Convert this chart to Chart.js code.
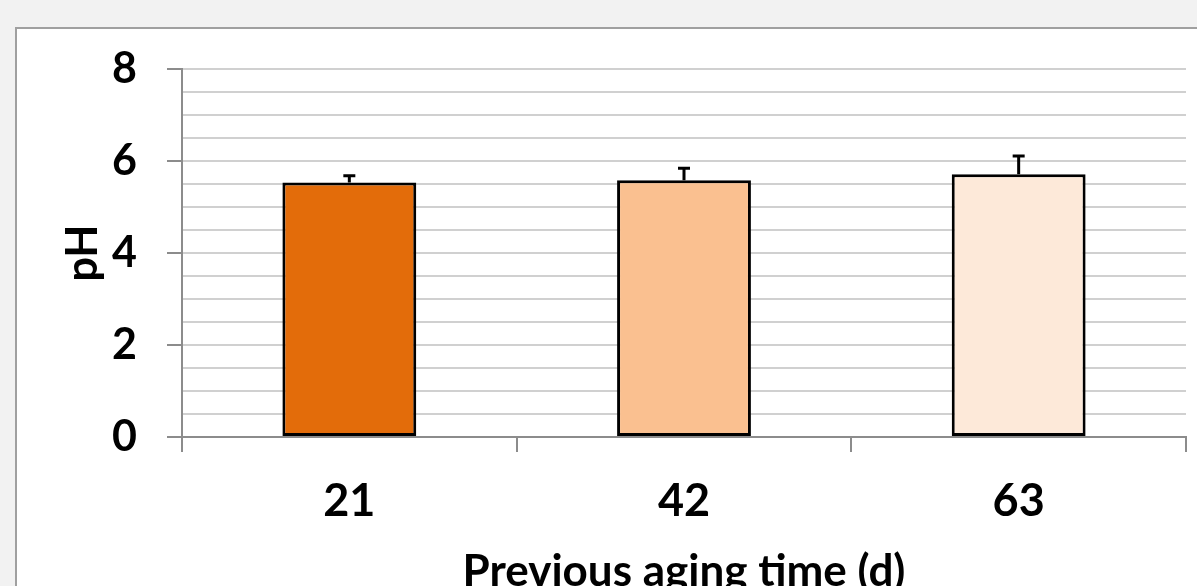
<!DOCTYPE html>
<html>
<head>
<meta charset="utf-8">
<script src="https://cdn.jsdelivr.net/npm/chart.js@4"></script>
<style>
    html, body { margin: 0; padding: 0; overflow: hidden; background: #f2f2f2; width: 1197px; height: 586px; }
    #frame { position: absolute; left: 15px; top: 27px; width: 1300px; height: 700px; background: #ffffff; border-left: 2px solid #a0a0a0; border-top: 2px solid #a0a0a0; }
    #phChart { position: absolute; left: 0; top: 0; }
</style>
</head>
<body>
<div id="frame"></div>
<canvas id="phChart" width="1197" height="640"></canvas>
<script>

const agingDays = ['21', '42', '63'];
const phValues = [5.53, 5.58, 5.71];
const phErrors = [0.15, 0.26, 0.40];
const barColors = ['#e36c0a', '#fac090', '#fde9d9'];
const yTickLabels = [0, 2, 4, 6, 8];


const errorBarPlugin = {

    id: 'errorBars',
    afterDatasetsDraw(chart) {

        const ctx = chart.ctx;
        const yScale = chart.scales.y;
        const meta = chart.getDatasetMeta(0);

        ctx.save();
        ctx.strokeStyle = '#000000';
        ctx.lineWidth = 3;

        meta.data.forEach((bar, i) => {

            const top = yScale.getPixelForValue(phValues[i] + phErrors[i]);
            const base = yScale.getPixelForValue(phValues[i]);

            ctx.beginPath();
            ctx.moveTo(bar.x, base);
            ctx.lineTo(bar.x, top);
            ctx.moveTo(bar.x - 6, top);
            ctx.lineTo(bar.x + 6, top);
            ctx.stroke();
        });

        ctx.restore();
    }
};


function initializeChart() {

    const ctx = document.getElementById('phChart').getContext('2d');

    new Chart(ctx, {

        type: 'bar',
        data: {

            labels: agingDays,
            datasets: [{

                data: phValues,
                backgroundColor: barColors,
                borderColor: '#000000',
                borderWidth: 3,
                borderSkipped: false,
                categoryPercentage: 1,
                barPercentage: 0.4
            }]
        },
        options: {

            responsive: false,
            devicePixelRatio: 1,
            animation: false,
            layout: {

                padding: { top: 69, right: 11, left: 0, bottom: 0 }
            },
            plugins: {

                legend: { display: false },
                tooltip: { enabled: false }
            },
            scales: {

                x: {

                    afterFit: (scale) => { scale.height = 640 - 437; },
                    grid: {

                        drawOnChartArea: false,
                        offset: true,
                        tickLength: 15,
                        tickColor: '#8c8c8c',
                        lineWidth: 2
                    },
                    border: { color: '#8c8c8c', width: 2 },
                    ticks: {

                        color: '#000000',
                        padding: 22,
                        font: { family: 'Lato', weight: 'bold', size: 45 }
                    },
                    title: {

                        display: true,
                        text: 'Previous aging time (d)',
                        color: '#000000',
                        padding: { top: 0, bottom: 42 },
                        font: { family: 'Lato', weight: 'bold', size: 44 }
                    }
                },
                y: {

                    min: 0,
                    max: 8,
                    afterFit: (scale) => { scale.width = 182; },
                    grid: {

                        color: '#d0d0d0',
                        lineWidth: 2,
                        tickLength: 15,
                        tickColor: (c) => yTickLabels.includes(c.tick.value) ? '#8c8c8c' : 'rgba(0,0,0,0)'
                    },
                    border: { color: '#8c8c8c', width: 2 },
                    ticks: {

                        stepSize: 0.5,
                        autoSkip: false,
                        color: '#000000',
                        padding: 30,
                        font: { family: 'Lato', weight: 'bold', size: 43 },
                        callback: (value) => yTickLabels.includes(value) ? String(value) : ''
                    },
                    title: {

                        display: true,
                        text: 'pH',
                        color: '#000000',
                        padding: { top: 57, bottom: 0 },
                        font: { family: 'Lato', weight: 'bold', size: 43 }
                    }
                }
            }
        },
        plugins: [errorBarPlugin]
    });
}


window.onload = function () {

    initializeChart();
};
</script>
</body>
</html>
